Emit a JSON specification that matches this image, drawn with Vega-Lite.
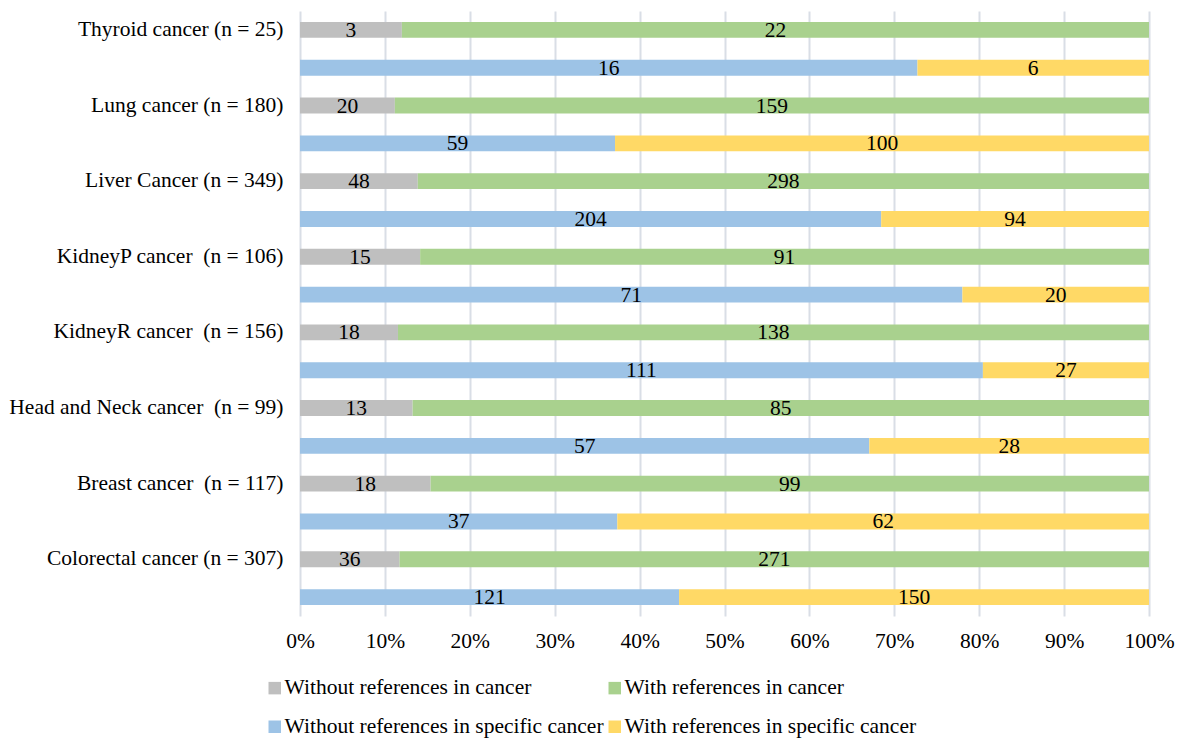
{
  "$schema": "https://vega.github.io/schema/vega-lite/v6.json",
  "width": 849,
  "height": 605,
  "autosize": {"type": "none"},
  "padding": {"left": 300, "top": 11, "right": 31, "bottom": 122},
  "background": "white",
  "config": {
    "font": "Liberation Serif",
    "view": {"stroke": null}
  },
  "data": {
    "values": [
      {"row": "Thyroid cancer (n = 25)", "series": "Without references in cancer", "k": 1, "n": 3},
      {"row": "Thyroid cancer (n = 25)", "series": "With references in cancer", "k": 2, "n": 22},
      {"row": "Thyroid cancer (n = 25)#", "series": "Without references in specific cancer", "k": 3, "n": 16},
      {"row": "Thyroid cancer (n = 25)#", "series": "With references in specific cancer", "k": 4, "n": 6},
      {"row": "Lung cancer (n = 180)", "series": "Without references in cancer", "k": 1, "n": 20},
      {"row": "Lung cancer (n = 180)", "series": "With references in cancer", "k": 2, "n": 159},
      {"row": "Lung cancer (n = 180)#", "series": "Without references in specific cancer", "k": 3, "n": 59},
      {"row": "Lung cancer (n = 180)#", "series": "With references in specific cancer", "k": 4, "n": 100},
      {"row": "Liver Cancer (n = 349)", "series": "Without references in cancer", "k": 1, "n": 48},
      {"row": "Liver Cancer (n = 349)", "series": "With references in cancer", "k": 2, "n": 298},
      {"row": "Liver Cancer (n = 349)#", "series": "Without references in specific cancer", "k": 3, "n": 204},
      {"row": "Liver Cancer (n = 349)#", "series": "With references in specific cancer", "k": 4, "n": 94},
      {"row": "KidneyP cancer \u00a0(n = 106)", "series": "Without references in cancer", "k": 1, "n": 15},
      {"row": "KidneyP cancer \u00a0(n = 106)", "series": "With references in cancer", "k": 2, "n": 91},
      {"row": "KidneyP cancer \u00a0(n = 106)#", "series": "Without references in specific cancer", "k": 3, "n": 71},
      {"row": "KidneyP cancer \u00a0(n = 106)#", "series": "With references in specific cancer", "k": 4, "n": 20},
      {"row": "KidneyR cancer \u00a0(n = 156)", "series": "Without references in cancer", "k": 1, "n": 18},
      {"row": "KidneyR cancer \u00a0(n = 156)", "series": "With references in cancer", "k": 2, "n": 138},
      {"row": "KidneyR cancer \u00a0(n = 156)#", "series": "Without references in specific cancer", "k": 3, "n": 111},
      {"row": "KidneyR cancer \u00a0(n = 156)#", "series": "With references in specific cancer", "k": 4, "n": 27},
      {"row": "Head and Neck cancer \u00a0(n = 99)", "series": "Without references in cancer", "k": 1, "n": 13},
      {"row": "Head and Neck cancer \u00a0(n = 99)", "series": "With references in cancer", "k": 2, "n": 85},
      {"row": "Head and Neck cancer \u00a0(n = 99)#", "series": "Without references in specific cancer", "k": 3, "n": 57},
      {"row": "Head and Neck cancer \u00a0(n = 99)#", "series": "With references in specific cancer", "k": 4, "n": 28},
      {"row": "Breast cancer \u00a0(n = 117)", "series": "Without references in cancer", "k": 1, "n": 18},
      {"row": "Breast cancer \u00a0(n = 117)", "series": "With references in cancer", "k": 2, "n": 99},
      {"row": "Breast cancer \u00a0(n = 117)#", "series": "Without references in specific cancer", "k": 3, "n": 37},
      {"row": "Breast cancer \u00a0(n = 117)#", "series": "With references in specific cancer", "k": 4, "n": 62},
      {"row": "Colorectal cancer (n = 307)", "series": "Without references in cancer", "k": 1, "n": 36},
      {"row": "Colorectal cancer (n = 307)", "series": "With references in cancer", "k": 2, "n": 271},
      {"row": "Colorectal cancer (n = 307)#", "series": "Without references in specific cancer", "k": 3, "n": 121},
      {"row": "Colorectal cancer (n = 307)#", "series": "With references in specific cancer", "k": 4, "n": 150}
    ]
  },
  "transform": [
    {
      "stack": "n",
      "groupby": ["row"],
      "sort": [{"field": "k", "order": "ascending"}],
      "offset": "normalize",
      "as": ["x0", "x1"]
    },
    {"calculate": "(datum.x0 + datum.x1) / 2", "as": "xmid"}
  ],
  "encoding": {
    "y": {
      "field": "row",
      "type": "nominal",
      "sort": null,
      "scale": {"paddingInner": 0.58, "paddingOuter": 0.29},
      "axis": {
        "title": null,
        "domain": false,
        "ticks": false,
        "labelPadding": 17,
        "labelFontSize": 21.5,
        "labelLimit": 400,
        "labelColor": "#000000",
        "labelExpr": "indexof(datum.value, '#') >= 0 ? '' : datum.value"
      }
    }
  },
  "layer": [
    {
      "mark": {"type": "bar"},
      "encoding": {
        "x": {
          "field": "x0",
          "type": "quantitative",
          "scale": {"domain": [0, 1]},
          "axis": {
            "title": null,
            "format": ".0%",
            "values": [0, 0.1, 0.2, 0.3, 0.4, 0.5, 0.6, 0.7, 0.8, 0.9, 1],
            "domain": false,
            "ticks": false,
            "labelPadding": 14,
            "labelFontSize": 21.5,
            "labelColor": "#000000",
            "labelFlush": false,
            "labelOverlap": false,
            "grid": true,
            "gridColor": "#D9DEE6",
            "gridWidth": 2
          }
        },
        "x2": {"field": "x1"},
        "color": {
          "field": "series",
          "type": "nominal",
          "scale": {
            "domain": [
              "Without references in cancer",
              "With references in cancer",
              "Without references in specific cancer",
              "With references in specific cancer"
            ],
            "range": ["#BFBFBF", "#A9D18E", "#9DC3E6", "#FFD966"]
          },
          "legend": {
            "title": null,
            "orient": "none",
            "legendX": -36,
            "legendY": 666,
            "direction": "horizontal",
            "columns": 2,
            "columnPadding": -4,
            "rowPadding": 16,
            "symbolType": "square",
            "symbolSize": 156,
            "symbolStrokeWidth": 0,
            "labelFontSize": 21.5,
            "labelColor": "#000000",
            "labelOffset": -1,
            "labelLimit": 400
          }
        }
      }
    },
    {
      "mark": {"type": "text", "fontSize": 21.5, "color": "#000000", "baseline": "middle", "dy": 1},
      "encoding": {
        "x": {"field": "xmid", "type": "quantitative"},
        "text": {"field": "n", "type": "quantitative"}
      }
    }
  ]
}
